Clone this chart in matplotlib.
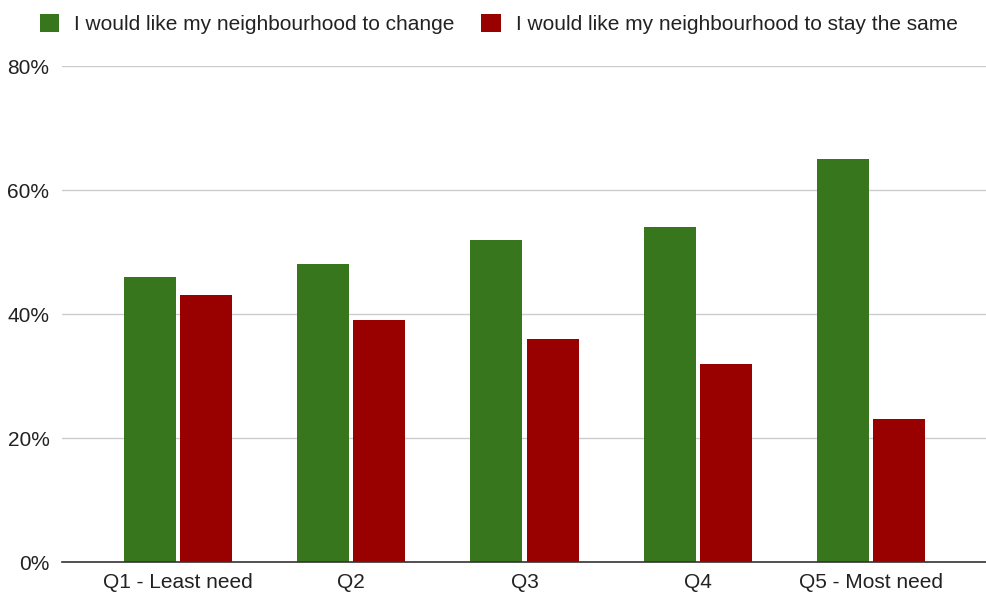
import numpy as np
import matplotlib
matplotlib.use("Agg")
import matplotlib.pyplot as plt

# data
categories = ["Q1 - Least need", "Q2", "Q3", "Q4", "Q5 - Most need"]
change = [46, 48, 52, 54, 65]
same = [43, 39, 36, 32, 23]
series_names = ["I would like my neighbourhood to change",
                "I would like my neighbourhood to stay the same"]
yticks = [0, 20, 40, 60, 80]

green = "#38761d"
red = "#990000"

plt.rcParams["font.family"] = ["Liberation Sans", "DejaVu Sans"]
plt.rcParams["font.size"] = 15

fig = plt.figure(figsize=(9.87, 5.94), dpi=100)
ax = fig.add_axes([62 / 987, 1 - 562 / 594, 1 - 62 / 987, (562 - 66) / 594])

x = np.arange(len(categories))
w = 0.30
off = 0.162
ax.bar(x - off, change, width=w, color=green, label=series_names[0], zorder=3)
ax.bar(x + off, same, width=w, color=red, label=series_names[1], zorder=3)

ax.set_xlim(-0.669, 4.669)
ax.set_ylim(0, 80)
ax.set_yticks(yticks)
ax.set_yticklabels([f"{v}%" for v in yticks])
ax.set_xticks(x)
ax.set_xticklabels(categories)
ax.tick_params(axis="both", length=0, colors="#222222", labelsize=15)
ax.tick_params(axis="y", pad=9)
ax.tick_params(axis="x", pad=8)

ax.grid(axis="y", color="#cccccc", linewidth=1, zorder=0)
for s in ["top", "right", "left"]:
    ax.spines[s].set_visible(False)
ax.spines["bottom"].set_color("#333333")
ax.spines["bottom"].set_linewidth(1.2)
ax.spines["bottom"].set_zorder(4)

leg = fig.legend(loc="upper left", bbox_to_anchor=(26 / 987, 1.0), ncol=2,
                 frameon=False, handlelength=0.95, handleheight=0.95,
                 handletextpad=0.7, columnspacing=1.3, fontsize=15,
                 borderaxespad=0.25)
for t in leg.get_texts():
    t.set_color("#222222")

fig.savefig("out.png", dpi=100)
